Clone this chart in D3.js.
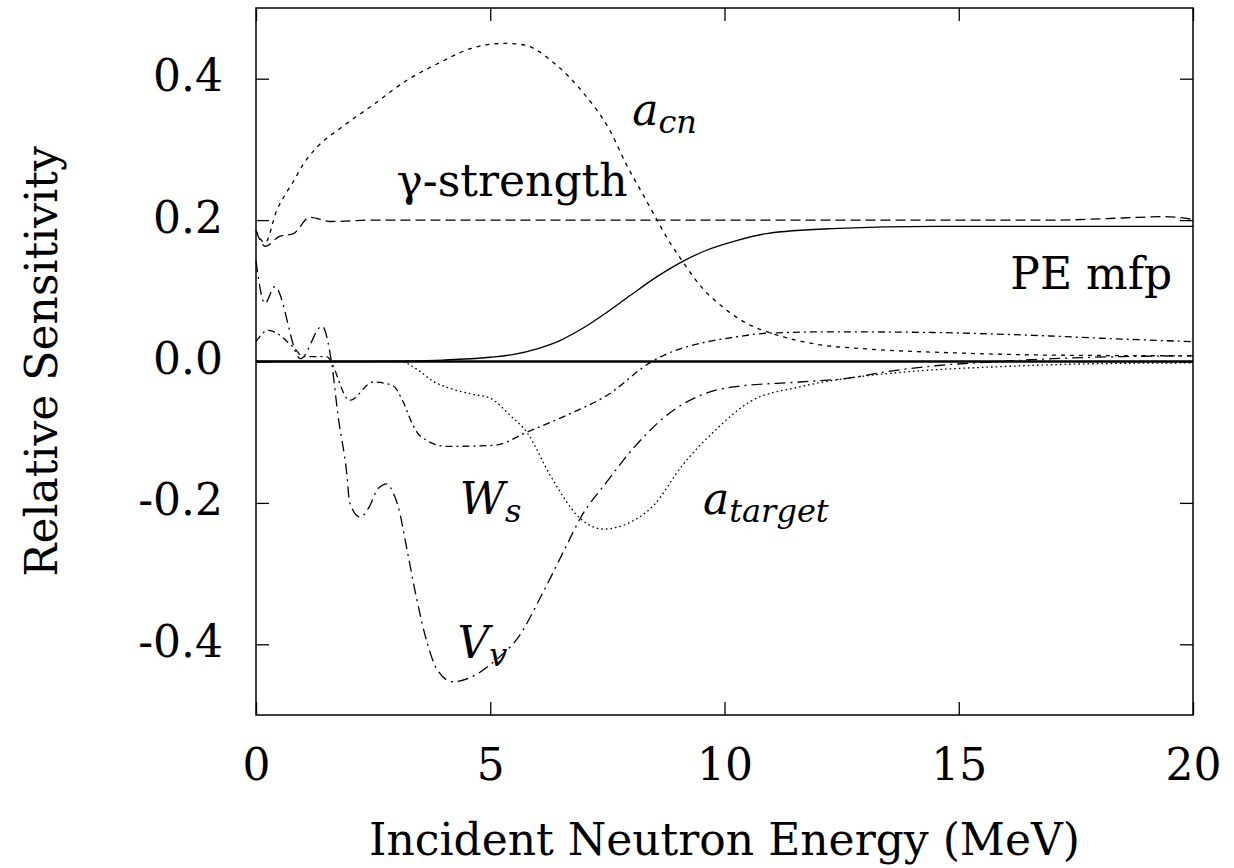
<!DOCTYPE html>
<html>
<head>
<meta charset="utf-8">
<script src="https://cdn.jsdelivr.net/npm/d3@7"></script>
<style>
  html, body { margin: 0; padding: 0; background: #fff; }
  svg { display: block; }
</style>
</head>
<body>
<svg id="chart" width="1234" height="868"></svg>
<script>
// ---------------- data ----------------
const xTicks = [0, 5, 10, 15, 20];
const yTicks = [-0.4, -0.2, 0.0, 0.2, 0.4];
const xDomain = [0, 20];
const yDomain = [-0.5, 0.5];

// PE mfp (solid)
const peE = [0, 2, 3, 4, 5.0, 5.5, 6.0, 6.5, 7.0, 7.5, 8.0, 8.56, 9.12, 9.6, 10.2, 10.9, 12.3, 14.5, 20];
const peS = [0, 0, 0.0005, 0.002, 0.006, 0.01, 0.018, 0.03, 0.048, 0.07, 0.094, 0.12, 0.142, 0.157, 0.17, 0.181, 0.188, 0.191, 0.191];

// gamma-strength (long dashes)
const gsE = [0, 0.2, 0.5, 0.8, 1.15, 1.6, 2.5, 5, 10, 15, 17, 18.5, 19.4, 20];
const gsS = [0.185, 0.163, 0.177, 0.181, 0.204, 0.198, 0.2, 0.2, 0.2, 0.2, 0.2, 0.203, 0.205, 0.201];

// a_cn (short dashes)
const acnE = [0, 0.19, 0.45, 0.66, 0.8, 1.0, 1.3, 1.8, 2.5, 3.2, 3.9, 4.6, 5.3, 5.7, 6.4, 6.96, 7.56, 7.91, 8.27, 8.56, 8.8, 9.1, 9.5, 10.0, 10.5, 11.0, 12.0, 13.0, 15.0, 17.0, 20.0];
const acnS = [0.185, 0.168, 0.215, 0.24, 0.255, 0.278, 0.303, 0.33, 0.363, 0.397, 0.422, 0.443, 0.45, 0.448, 0.42, 0.382, 0.326, 0.278, 0.235, 0.2, 0.172, 0.142, 0.106, 0.075, 0.053, 0.04, 0.024, 0.018, 0.012, 0.009, 0.008];

// a_target (dotted)
const atE = [0, 1, 2, 3.07, 3.5, 3.78, 4.14, 4.6, 5.0, 5.42, 5.78, 6.28, 6.92, 7.41, 7.9, 8.48, 9.1, 9.84, 10.54, 11.6, 12.6, 14, 16, 18, 20];
const atS = [0, 0, 0, 0, -0.014, -0.028, -0.038, -0.046, -0.052, -0.076, -0.1, -0.161, -0.222, -0.237, -0.23, -0.204, -0.147, -0.095, -0.057, -0.036, -0.024, -0.014, -0.007, -0.003, -0.002];

// W_s (dash-dot)
const wsE = [0, 0.26, 0.83, 1.0, 1.5, 2.0, 2.5, 2.92, 3.14, 3.35, 3.5, 4.07, 4.93, 5.14, 5.78, 6.63, 7.49, 8.45, 9.05, 9.5, 10.27, 10.9, 12.3, 14.45, 16.6, 18, 20];
const wsS = [0.028, 0.044, 0.018, 0.007, 0.007, -0.055, -0.029, -0.034, -0.057, -0.09, -0.105, -0.12, -0.119, -0.118, -0.1, -0.076, -0.048, 0.0, 0.018, 0.026, 0.035, 0.04, 0.042, 0.041, 0.037, 0.033, 0.028];

// V_v (long dash-dot)
const vvE = [0, 0.19, 0.4, 0.95, 1.41, 1.62, 1.75, 1.94, 2.0, 2.22, 2.43, 2.6, 2.8, 2.92, 3.03, 3.22, 3.43, 3.65, 3.86, 4.2, 4.72, 5.14, 5.6, 6.1, 6.63, 6.92, 7.49, 8.05, 8.77, 9.48, 10.18, 11.6, 12.6, 13.5, 14.5, 15.9, 17, 18.5, 20];
const vvS = [0.142, 0.082, 0.106, 0.004, 0.05, -0.005, -0.076, -0.16, -0.2, -0.22, -0.204, -0.18, -0.173, -0.185, -0.204, -0.265, -0.336, -0.397, -0.435, -0.453, -0.442, -0.421, -0.39, -0.33, -0.26, -0.222, -0.17, -0.123, -0.076, -0.048, -0.036, -0.029, -0.024, -0.014, -0.006, 0.0, 0.004, 0.007, 0.008];

// curve labels
const labelText = ["a", "γ-strength", "PE mfp", "W", "a", "V"];
const labelSub  = ["cn", "", "", "s", "target", "v"];
const labelItalicMain = [true, false, false, true, true, true];
const labelE = [8.03, 3.0, 16.1, 4.35, 9.54, 4.3];
const labelS = [0.334, 0.234, 0.103, -0.215, -0.215, -0.42];

// ---------------- layout ----------------
const FONT = "DejaVu Serif, serif";
const svg = d3.select("#chart");
const L = 256, R = 1193, T = 8, B = 715;
const x = d3.scaleLinear().domain(xDomain).range([L, R]);
const y = d3.scaleLinear().domain(yDomain).range([B, T]);

const g = svg.append("g");

g.append("line")
  .attr("x1", x(0)).attr("x2", x(20)).attr("y1", y(0)).attr("y2", y(0))
  .attr("stroke", "#000").attr("stroke-width", 2.6);

const series = [
  {E: peE, S: peS, dash: null},
  {E: gsE, S: gsS, dash: "10,5"},
  {E: acnE, S: acnS, dash: "4,5"},
  {E: atE, S: atS, dash: "1.6,3"},
  {E: wsE, S: wsS, dash: "7,4,2,4"},
  {E: vvE, S: vvS, dash: "11,5,2,5"}
];

const line = d3.line().x(d => x(d[0])).y(d => y(d[1])).curve(d3.curveMonotoneX);

series.forEach(s => {
  const pts = s.E.map((e, i) => [e, s.S[i]]);
  g.append("path")
    .attr("d", line(pts))
    .attr("fill", "none")
    .attr("stroke", "#000")
    .attr("stroke-width", 1.3)
    .attr("stroke-dasharray", s.dash);
});

const fs = 44;
const axB = g.append("g").attr("transform", `translate(0,${B})`)
  .call(d3.axisBottom(x).tickValues(xTicks).tickSize(-13).tickFormat(d3.format("d")));
const axT = g.append("g").attr("transform", `translate(0,${T})`)
  .call(d3.axisTop(x).tickValues(xTicks).tickSize(-13).tickFormat(""));
const axL = g.append("g").attr("transform", `translate(${L},0)`)
  .call(d3.axisLeft(y).tickValues(yTicks).tickSize(-13).tickFormat(d3.format(".1f")));
const axR = g.append("g").attr("transform", `translate(${R},0)`)
  .call(d3.axisRight(y).tickValues(yTicks).tickSize(-13).tickFormat(""));

[axB, axT, axL, axR].forEach(a => {
  a.attr("font-family", FONT);
  a.select(".domain").remove();
  a.selectAll(".tick line").attr("stroke", "#000").attr("stroke-width", 1.3);
});

axB.selectAll(".tick text")
  .attr("y", 65).attr("dy", null)
  .attr("font-size", fs).attr("fill", "#000");
axL.selectAll(".tick text")
  .attr("x", -33).attr("dy", null).attr("y", 12)
  .attr("text-anchor", "end")
  .attr("font-size", fs).attr("fill", "#000")
  .text(d => d3.format(".1f")(d).replace("−", "-"));

g.append("rect").attr("x", L).attr("y", T).attr("width", R - L).attr("height", B - T)
  .attr("fill", "none").attr("stroke", "#000").attr("stroke-width", 1.5);

svg.append("text")
  .attr("x", (L + R) / 2).attr("y", 855)
  .attr("text-anchor", "middle").attr("font-size", fs).attr("font-family", FONT)
  .text("Incident Neutron Energy (MeV)");
svg.append("text")
  .attr("transform", `translate(57,${(T + B) / 2}) rotate(-90)`)
  .attr("text-anchor", "middle").attr("font-size", fs).attr("font-family", FONT)
  .text("Relative Sensitivity");

labelText.forEach((t, i) => {
  const tx = g.append("text")
    .attr("x", x(labelE[i])).attr("y", y(labelS[i]))
    .attr("font-size", fs).attr("font-family", FONT);
  tx.append("tspan").text(t).attr("font-style", labelItalicMain[i] ? "italic" : null);
  if (labelSub[i]) {
    tx.append("tspan").text(labelSub[i])
      .attr("font-style", "italic")
      .attr("font-size", 32)
      .attr("dy", 8);
  }
});
</script>
</body>
</html>
